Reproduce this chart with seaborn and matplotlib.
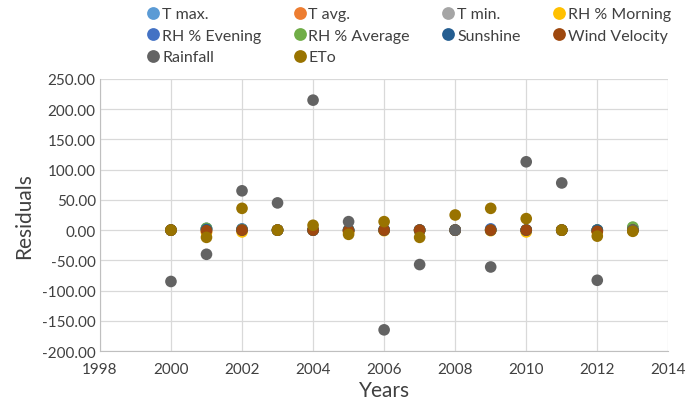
import numpy as np
import pandas as pd
import matplotlib.pyplot as plt
import seaborn as sns

years = list(range(2000, 2014))

t_max = [0, 3, 1, 0, 0, 0, 0, 0, 0, 1, 0, 0, 0, 4]
t_avg = [0, -2, 0, 0, 0, -2, 0, 0, 0, 0, 0, 0, -2, 0]
t_min = [0, 2, 1, 0, 0, 0, 0, 0, 0, 0, 0, 0, 0, 0]
rh_morning = [0, -4, -3, 0, 0, -3, -1, -1, 0, -1, -3, 0, -3, -1]
rh_evening = [0, 2, 2, 0, 0, 0, 1, 0, 0, 2, 0, 0, 0, 0]
rh_average = [0, 3, 1, 0, 0, 0, 0, 0, 0, 0, 0, 0, 0, 5]
sunshine = [0, 1, 0, 0, 0, 0, 0, 0, 0, 0, 0, 0, 0, 0]
wind_velocity = [0, -1, 0, 0, 0, -1, 0, 0, 0, 0, 0, 0, -2, 0]
rainfall = [-85, -40, 65, 45, 215, 14, -165, -57, 0, -61, 113, 78, -83, 0]
eto = [0, -12, 36, 0, 8, -7, 14, -12, 25, 36, 19, 0, -10, -2]

series = {
    'T max.': t_max, 'T avg.': t_avg, 'T min.': t_min, 'RH % Morning': rh_morning,
    'RH % Evening': rh_evening, 'RH % Average': rh_average, 'Sunshine': sunshine,
    'Wind Velocity': wind_velocity, 'Rainfall': rainfall, 'ETo': eto,
}
colors = ['#5B9BD5', '#ED7D31', '#A5A5A5', '#FFC000', '#4472C4',
          '#70AD47', '#255E91', '#9E480E', '#636363', '#997300']

df = pd.concat([pd.DataFrame({'Year': years, 'Residual': v, 'Variable': k})
                for k, v in series.items()], ignore_index=True)

sns.set_style('white')
plt.rcParams['font.family'] = ['Lato', 'DejaVu Sans']

fig = plt.figure(figsize=(6.89, 4.06), dpi=100)
ax = fig.add_axes([0.145, 0.133, 0.825, 0.670])

sns.scatterplot(data=df, x='Year', y='Residual', hue='Variable',
                palette=colors, s=70, linewidth=0, ax=ax, zorder=3)

ax.set_xlim(1998, 2014)
ax.set_ylim(-200, 250)
ax.set_xticks(range(1998, 2015, 2))
ax.set_yticks(range(-200, 251, 50))
ax.set_yticklabels([f'{v:.2f}' for v in range(-200, 251, 50)])
ax.grid(True, color='#d9d9d9', linewidth=0.9)
ax.set_axisbelow(True)
for s in ['top', 'right']:
    ax.spines[s].set_visible(False)
for s in ['left', 'bottom']:
    ax.spines[s].set_color('#bfbfbf')
ax.tick_params(axis='y', length=0, labelsize=11, colors='#404040', pad=3)
ax.tick_params(axis='x', length=0, labelsize=11, colors='#404040', pad=8)
ax.set_xlabel('Years', fontsize=15, color='#404040', labelpad=3)
ax.set_ylabel('Residuals', fontsize=15, color='#404040', labelpad=6)

handles, labels = ax.get_legend_handles_labels()
ax.get_legend().remove()
order = [0, 4, 8, 1, 5, 9, 2, 6, 3, 7]
fig.legend([handles[i] for i in order], [labels[i] for i in order],
           ncol=4, loc='upper left', bbox_to_anchor=(0.19, 1.015),
           frameon=False, fontsize=11.5, handletextpad=0.05,
           columnspacing=1.9, labelspacing=0.45, handlelength=1.0,
           markerscale=1.1, labelcolor='#404040')

plt.savefig('out.png', dpi=100)
